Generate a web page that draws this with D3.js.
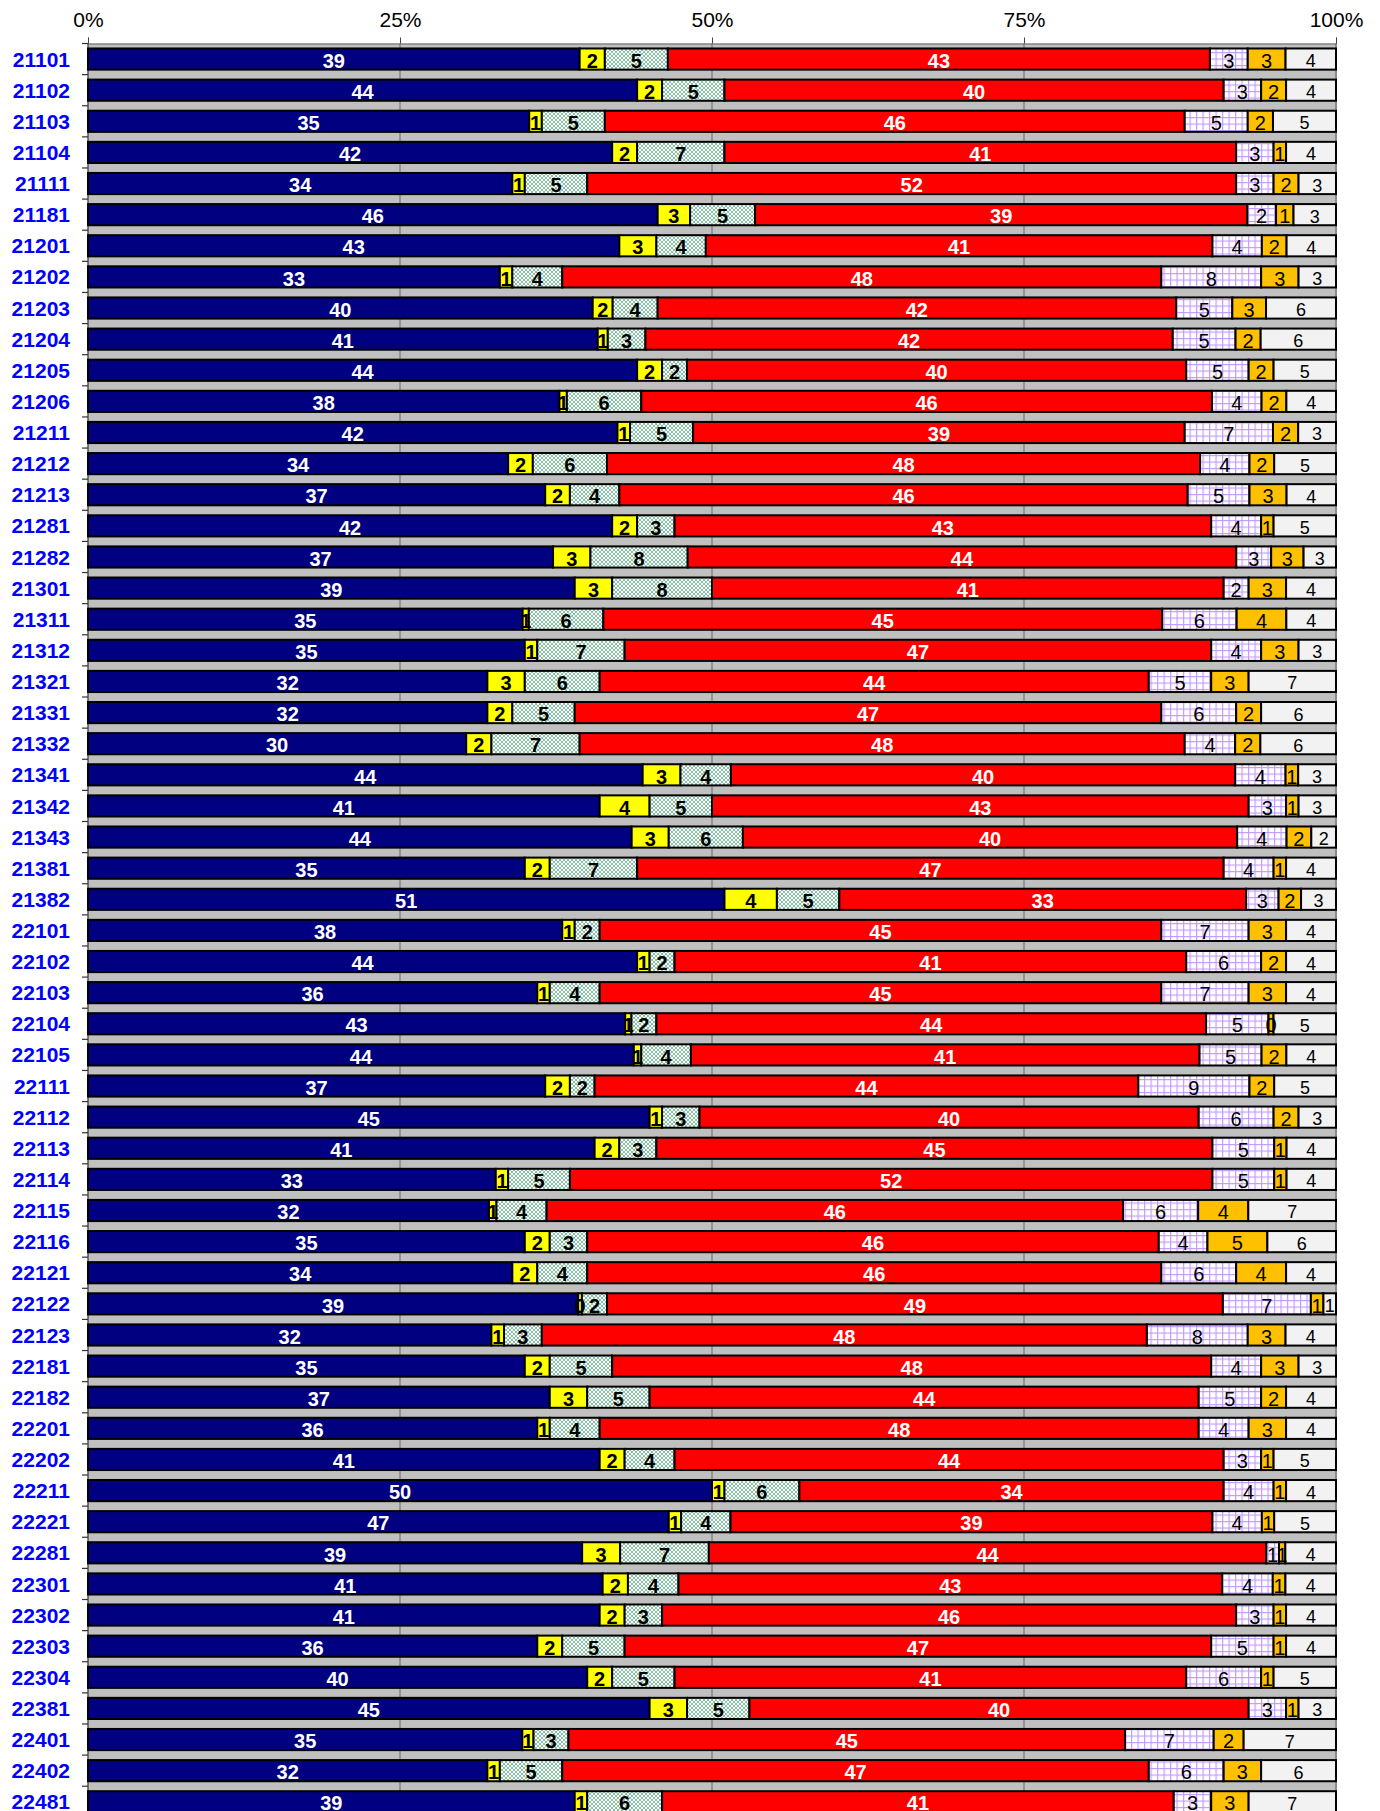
<!DOCTYPE html>
<meta charset="utf-8">
<head>
<script src="https://d3js.org/d3.v7.min.js"></script>
<style>
  body { margin: 0; background: #fff; overflow: hidden; }
  svg text { font-family: "Liberation Sans", Arial, sans-serif; }
</style>
</head>
<body>
<svg id="chart" width="1380" height="1811"></svg>
<script>

// row codes, top to bottom
var codes = ["21101","21102","21103","21104","21111","21181","21201","21202","21203","21204",
  "21205","21206","21211","21212","21213","21281","21282","21301","21311","21312",
  "21321","21331","21332","21341","21342","21343","21381","21382","22101","22102",
  "22103","22104","22105","22111","22112","22113","22114","22115","22116","22121",
  "22122","22123","22181","22182","22201","22202","22211","22221","22281","22301",
  "22302","22303","22304","22381","22401","22402","22481"];

// the seven series, left to right (percent of row)
var navyVals   = [39,44,35,42,34,45.6,43,33,40.4,40.6, 44,38,42,34,37,42,37.3,39,35,35, 32,32,30,44,41,44,35,51,38,44,
                  36,43,44,37,45,41,33,32,35,34, 39,32,35,37,36,41,50,47,39,40.7, 41,36,40,45,34.8,32,39];
var yellowVals = [2,2,1,2,1,2.6,3,1,1.6,0.8, 2,0.6,1,2,2,2,3,3,0.5,1, 3,2,2,3,4,3,2,4.2,1,1,
                  1,0.5,0.6,2,1,2,1,0.6,2,2, 0.3,1,2,3,1,2,1,1,3,2, 2,2,2,3,0.9,1,1];
var greenVals  = [5,5,5,7,5,5.2,4,4,3.6,3, 2,6,5,6,4,3,7.8,8,6,7, 6,5,7,4,5,6,7,5,2,2,
                  4,2,4,2,3,3,5,4,3,4, 2,3,5,5,4,4,6,4,7,4, 3,5,5,5,2.8,5,6];
var redVals    = [43,40,46,41,52,39.4,41,48,41.5,42, 40,46,39,48,46,43,44,41,45,47, 44,47,48,40,43,40,47,32.6,45,41,
                  45,44,41,44,40,45,52,46,45.8,46, 49,48,48,44,48,44,34,39,44,43, 46,47,41,40,44.6,47,41];
var lilacVals  = [3,3,5,3,3,2.3,4,8,4.5,5, 5,4,7,4,5,4,2.8,2,6,4, 5,6,4,4,3,4,4,2.6,7,6,
                  7,5,5,9,6,5,5,6,3.9,6, 7,8,4,5,4,3,4,4,1,4, 3,5,6,3,7.1,6,3];
var orangeVals = [3,2,2,1,2,1.4,2,3,2.7,2, 2,2,2,2,3,1,2.6,3,4,3, 3,2,2,1,1,2,1,1.8,3,2,
                  3,0.4,2,2,2,1,1,4,4.8,4, 1,3,3,2,3,1,1,1,0.5,1, 1,1,1,1,2.4,3,3];
var greyVals   = [4,4,5,4,3,3.4,4,3,5.6,6, 5,4,3,5,4,5,2.6,4,4,3, 7,6,6,3,3,2,4,2.8,4,4,
                  4,5,4,5,3,4,4,7,5.5,4, 1,4,3,4,4,5,4,5,4,4, 4,4,5,3,7.4,6,7];

var tickValues = [0, 0.25, 0.5, 0.75, 1];
var tickLabels = ["0%", "25%", "50%", "75%", "100%"];

var keys = ["navy", "yellow", "green", "red", "lilac", "orange", "grey"];
var rows = codes.map(function(c, i) {
  return {code: c, navy: navyVals[i], yellow: yellowVals[i], green: greenVals[i], red: redVals[i],
          lilac: lilacVals[i], orange: orangeVals[i], grey: greyVals[i]};
});

var fills = {navy: "#000080", yellow: "#FFFF00", green: "url(#pGreen)", red: "#FF0000",
             lilac: "url(#pLilac)", orange: "#FFC000", grey: "#F2F2F2"};
var labelStyle = {
  navy:   {c: "#fff", w: "bold",   s: 20},
  yellow: {c: "#000", w: "bold",   s: 20},
  green:  {c: "#000", w: "bold",   s: 20},
  red:    {c: "#fff", w: "bold",   s: 20},
  lilac:  {c: "#000", w: "normal", s: 20},
  orange: {c: "#000", w: "normal", s: 20},
  grey:   {c: "#000", w: "normal", s: 18}
};

var svg = d3.select("#chart");
var plotLeft = 88, plotRight = 1336, plotTop = 43.5, step = 31.12;
var plotBottom = plotTop + step * codes.length;

var x = d3.scaleLinear().domain([0, 1]).range([plotLeft, plotRight]);
var y = d3.scaleBand().domain(codes)
    .range([plotTop, plotBottom])
    .paddingInner(0.32).paddingOuter(0.16);

// fill patterns
var defs = svg.append("defs");
var pg = defs.append("pattern").attr("id", "pGreen")
    .attr("patternUnits", "userSpaceOnUse").attr("width", 4).attr("height", 4);
pg.append("rect").attr("width", 4).attr("height", 4).attr("fill", "#fff");
[[0,0],[4,0],[0,4],[4,4],[2,2]].forEach(function(p) {
  pg.append("circle").attr("cx", p[0]).attr("cy", p[1]).attr("r", 1).attr("fill", "#5fae86");
});
var pl = defs.append("pattern").attr("id", "pLilac")
    .attr("patternUnits", "userSpaceOnUse").attr("width", 6.5).attr("height", 6.5);
pl.append("rect").attr("width", 6.5).attr("height", 6.5).attr("fill", "#fff");
pl.append("path").attr("d", "M0,0.6H6.5M0.6,0V6.5")
  .attr("stroke", "#C49CFF").attr("stroke-width", 1.2);

// plot area
svg.append("rect")
    .attr("x", plotLeft).attr("y", plotTop)
    .attr("width", plotRight - plotLeft).attr("height", plotBottom - plotTop)
    .attr("fill", "#C0C0C0");
svg.append("line").attr("x1", plotRight).attr("x2", plotRight).attr("y1", plotTop).attr("y2", plotBottom)
    .attr("stroke", "#8a8a8a").attr("stroke-width", 2);

// gridlines
svg.append("g").selectAll("line")
  .data(tickValues.slice(1, 4))
  .enter().append("line")
    .attr("x1", d => x(d)).attr("x2", d => x(d))
    .attr("y1", plotTop).attr("y2", plotBottom)
    .attr("stroke", "#666").attr("stroke-width", 1);

// top axis
var xAxis = svg.append("g")
    .attr("transform", "translate(0," + plotTop + ")")
    .call(d3.axisTop(x).tickValues(tickValues).tickFormat((d, i) => tickLabels[i])
      .tickSize(6).tickPadding(11));
xAxis.select(".domain").attr("stroke", "#666");
xAxis.selectAll(".tick line").attr("stroke", "#444");
xAxis.selectAll("text").attr("font-size", 21).attr("fill", "#000")
    .style("font-family", '"Liberation Sans", Arial, sans-serif');

// left axis line + ticks between rows
svg.append("line").attr("x1", plotLeft).attr("x2", plotLeft).attr("y1", plotTop).attr("y2", plotBottom)
    .attr("stroke", "#333").attr("stroke-width", 1.2);
svg.append("g").selectAll("line")
  .data(d3.range(codes.length + 1))
  .enter().append("line")
    .attr("x1", plotLeft - 6).attr("x2", plotLeft)
    .attr("y1", i => plotTop + i * step).attr("y2", i => plotTop + i * step)
    .attr("stroke", "#333").attr("stroke-width", 1.2);

// row labels
svg.append("g").selectAll("text")
  .data(codes)
  .enter().append("text")
    .attr("x", 70)
    .attr("y", d => y(d) + y.bandwidth() / 2)
    .attr("dy", "0.36em")
    .attr("text-anchor", "end")
    .attr("font-size", 21)
    .attr("font-weight", "bold")
    .attr("fill", "#0000FF")
    .text(d => d);

// stacked bars
var stacked = d3.stack().keys(keys).offset(d3.stackOffsetExpand)(rows);

var layers = svg.append("g").selectAll("g")
  .data(stacked)
  .enter().append("g")
    .attr("fill", d => fills[d.key]);

layers.selectAll("rect")
  .data(d => d)
  .enter().append("rect")
    .attr("x", d => x(d[0]))
    .attr("y", d => y(d.data.code))
    .attr("width", d => x(d[1]) - x(d[0]))
    .attr("height", y.bandwidth())
    .attr("stroke", "#000")
    .attr("stroke-width", 2);

// value labels on top of everything
var labels = svg.append("g").selectAll("g")
  .data(stacked)
  .enter().append("g")
    .attr("fill", d => labelStyle[d.key].c)
    .attr("font-weight", d => labelStyle[d.key].w)
    .attr("font-size", d => labelStyle[d.key].s);

labels.each(function(layer) {
  d3.select(this).selectAll("text")
    .data(layer)
    .enter().append("text")
      .attr("x", d => (x(d[0]) + x(d[1])) / 2)
      .attr("y", d => y(d.data.code) + y.bandwidth() / 2 + 1.5)
      .attr("dy", "0.36em")
      .attr("text-anchor", "middle")
      .text(d => Math.round(d.data[layer.key]));
});

</script>
</body>
</html>
